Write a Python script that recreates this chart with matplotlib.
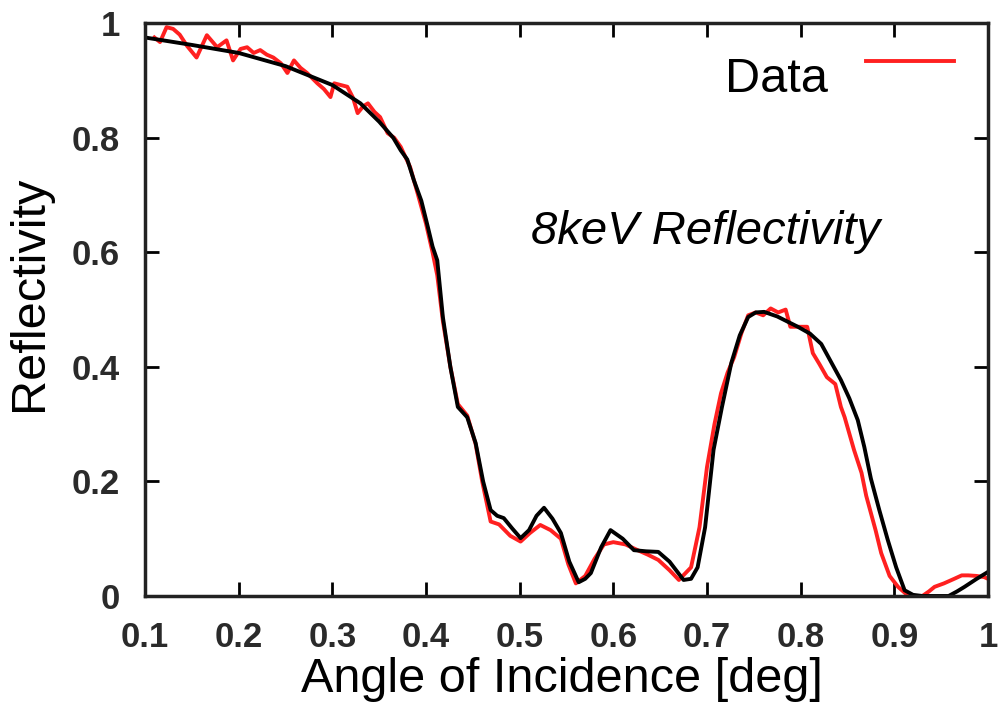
import matplotlib
matplotlib.use("Agg")
import matplotlib.pyplot as plt
from matplotlib.legend_handler import HandlerLine2D

plt.rcParams['font.family'] = ['Liberation Sans', 'DejaVu Sans']

# measured reflectivity (red)
data_x = [0.110, 0.116, 0.123, 0.130, 0.137, 0.145, 0.155, 0.166, 0.177, 0.187,
          0.194, 0.202, 0.209, 0.216, 0.223, 0.230, 0.237, 0.245, 0.252, 0.259,
          0.266, 0.273, 0.284, 0.291, 0.298, 0.302, 0.309, 0.316, 0.322, 0.327,
          0.333, 0.338, 0.345, 0.351, 0.359, 0.366, 0.373, 0.383, 0.391, 0.400,
          0.407, 0.412, 0.418, 0.426, 0.434, 0.444, 0.453, 0.460, 0.469, 0.478,
          0.490, 0.501, 0.511, 0.522, 0.533, 0.544, 0.552, 0.560, 0.570, 0.580,
          0.590, 0.600, 0.613, 0.626, 0.637, 0.648, 0.660, 0.670, 0.683, 0.692,
          0.700, 0.708, 0.715, 0.722, 0.729, 0.737, 0.744, 0.752, 0.760, 0.768,
          0.776, 0.784, 0.789, 0.798, 0.807, 0.813, 0.820, 0.828, 0.837, 0.843,
          0.847, 0.857, 0.865, 0.870, 0.875, 0.880, 0.886, 0.895, 0.904, 0.915,
          0.930, 0.937, 0.943, 0.953, 0.964, 0.972, 0.979, 0.988, 0.996, 1.000]
data_y = [0.975, 0.967, 0.993, 0.990, 0.980, 0.960, 0.940, 0.979, 0.958, 0.970,
          0.935, 0.955, 0.958, 0.948, 0.953, 0.945, 0.940, 0.930, 0.913, 0.935,
          0.922, 0.913, 0.895, 0.885, 0.871, 0.895, 0.892, 0.889, 0.870, 0.843,
          0.855, 0.860, 0.845, 0.836, 0.808, 0.800, 0.784, 0.749, 0.703, 0.650,
          0.600, 0.560, 0.480, 0.400, 0.335, 0.315, 0.265, 0.200, 0.130, 0.125,
          0.105, 0.095, 0.110, 0.124, 0.115, 0.100, 0.055, 0.022, 0.035, 0.065,
          0.090, 0.094, 0.090, 0.080, 0.072, 0.063, 0.045, 0.028, 0.050, 0.120,
          0.225, 0.300, 0.354, 0.390, 0.417, 0.460, 0.490, 0.495, 0.490, 0.502,
          0.495, 0.500, 0.470, 0.470, 0.470, 0.424, 0.405, 0.382, 0.370, 0.330,
          0.312, 0.255, 0.215, 0.175, 0.145, 0.115, 0.075, 0.035, 0.016, 0.000,
          0.000, 0.008, 0.016, 0.022, 0.030, 0.036, 0.036, 0.035, 0.033, 0.030]

# model fit (black)
fit_x = [0.100, 0.150, 0.200, 0.250, 0.300, 0.330, 0.350, 0.365, 0.373, 0.380,
         0.387, 0.395, 0.402, 0.407, 0.412, 0.418, 0.426, 0.434, 0.444, 0.453,
         0.461, 0.469, 0.476, 0.483, 0.492, 0.501, 0.510, 0.518, 0.526, 0.535,
         0.544, 0.553, 0.563, 0.570, 0.576, 0.587, 0.597, 0.610, 0.622, 0.635,
         0.648, 0.660, 0.675, 0.683, 0.690, 0.698, 0.707, 0.716, 0.726, 0.735,
         0.744, 0.752, 0.761, 0.775, 0.797, 0.810, 0.822, 0.832, 0.843, 0.852,
         0.861, 0.868, 0.875, 0.884, 0.893, 0.902, 0.911, 0.920, 0.930, 0.958,
         0.967, 0.975, 0.988, 1.000]
fit_y = [0.975, 0.962, 0.948, 0.925, 0.892, 0.860, 0.828, 0.800, 0.778, 0.762,
         0.726, 0.690, 0.644, 0.610, 0.586, 0.487, 0.400, 0.330, 0.312, 0.267,
         0.200, 0.150, 0.140, 0.136, 0.118, 0.101, 0.115, 0.140, 0.154, 0.135,
         0.110, 0.060, 0.024, 0.030, 0.040, 0.085, 0.115, 0.100, 0.080, 0.078,
         0.077, 0.060, 0.028, 0.030, 0.050, 0.120, 0.255, 0.330, 0.407, 0.455,
         0.487, 0.495, 0.496, 0.488, 0.470, 0.458, 0.440, 0.410, 0.377, 0.345,
         0.307, 0.260, 0.205, 0.150, 0.098, 0.050, 0.010, 0.002, 0.000, 0.000,
         0.008, 0.016, 0.030, 0.042]

x_ticks = [0.1, 0.2, 0.3, 0.4, 0.5, 0.6, 0.7, 0.8, 0.9, 1.0]
x_labels = ["0.1", "0.2", "0.3", "0.4", "0.5", "0.6", "0.7", "0.8", "0.9", "1"]
y_ticks = [0, 0.2, 0.4, 0.6, 0.8, 1.0]
y_labels = ["0", "0.2", "0.4", "0.6", "0.8", "1"]


class RaisedLine(HandlerLine2D):
    # legend sample sits above the text like in gnuplot
    def create_artists(self, legend, orig, xdescent, ydescent, width, height,
                       fontsize, trans):
        return super().create_artists(legend, orig, xdescent, ydescent - 20,
                                      width, height, fontsize, trans)


fig = plt.figure(figsize=(10.03, 7.02), dpi=100)
ax = fig.add_axes([0.1446, 0.151, 0.8404, 0.816])

line_data, = ax.plot(data_x, data_y, color='#ff2020', lw=2.8, label='Data')
ax.plot(fit_x, fit_y, color='black', lw=2.8)

ax.set_xlim(0.1, 1.0)
ax.set_ylim(0, 1.0)
ax.set_xticks(x_ticks)
ax.set_xticklabels(x_labels)
ax.set_yticks(y_ticks)
ax.set_yticklabels(y_labels)
ax.tick_params(direction='in', length=10, width=2, top=True, right=True,
               labelsize=25, labelcolor='#2a2a2a', pad=18)
for lab in ax.get_xticklabels() + ax.get_yticklabels():
    lab.set_fontweight('semibold')
for s in ax.spines.values():
    s.set_linewidth(2.5)
    s.set_color('#222222')

ax.set_xlabel("Angle of Incidence [deg]", fontsize=35, va='baseline')
ax.xaxis.set_label_coords(0.495, -0.1675)
ax.set_ylabel("Reflectivity", fontsize=35, va='baseline')
ax.yaxis.set_label_coords(-0.122, 0.528)

ax.text(0.512, 0.635, "8keV Reflectivity", fontsize=34, style='italic',
        va='center', ha='left')

ax.legend(loc='upper right', frameon=False, markerfirst=False, fontsize=35,
          handlelength=1.8, handletextpad=0.8, borderaxespad=0.3,
          handler_map={line_data: RaisedLine()})

fig.savefig("out.png", dpi=100)
